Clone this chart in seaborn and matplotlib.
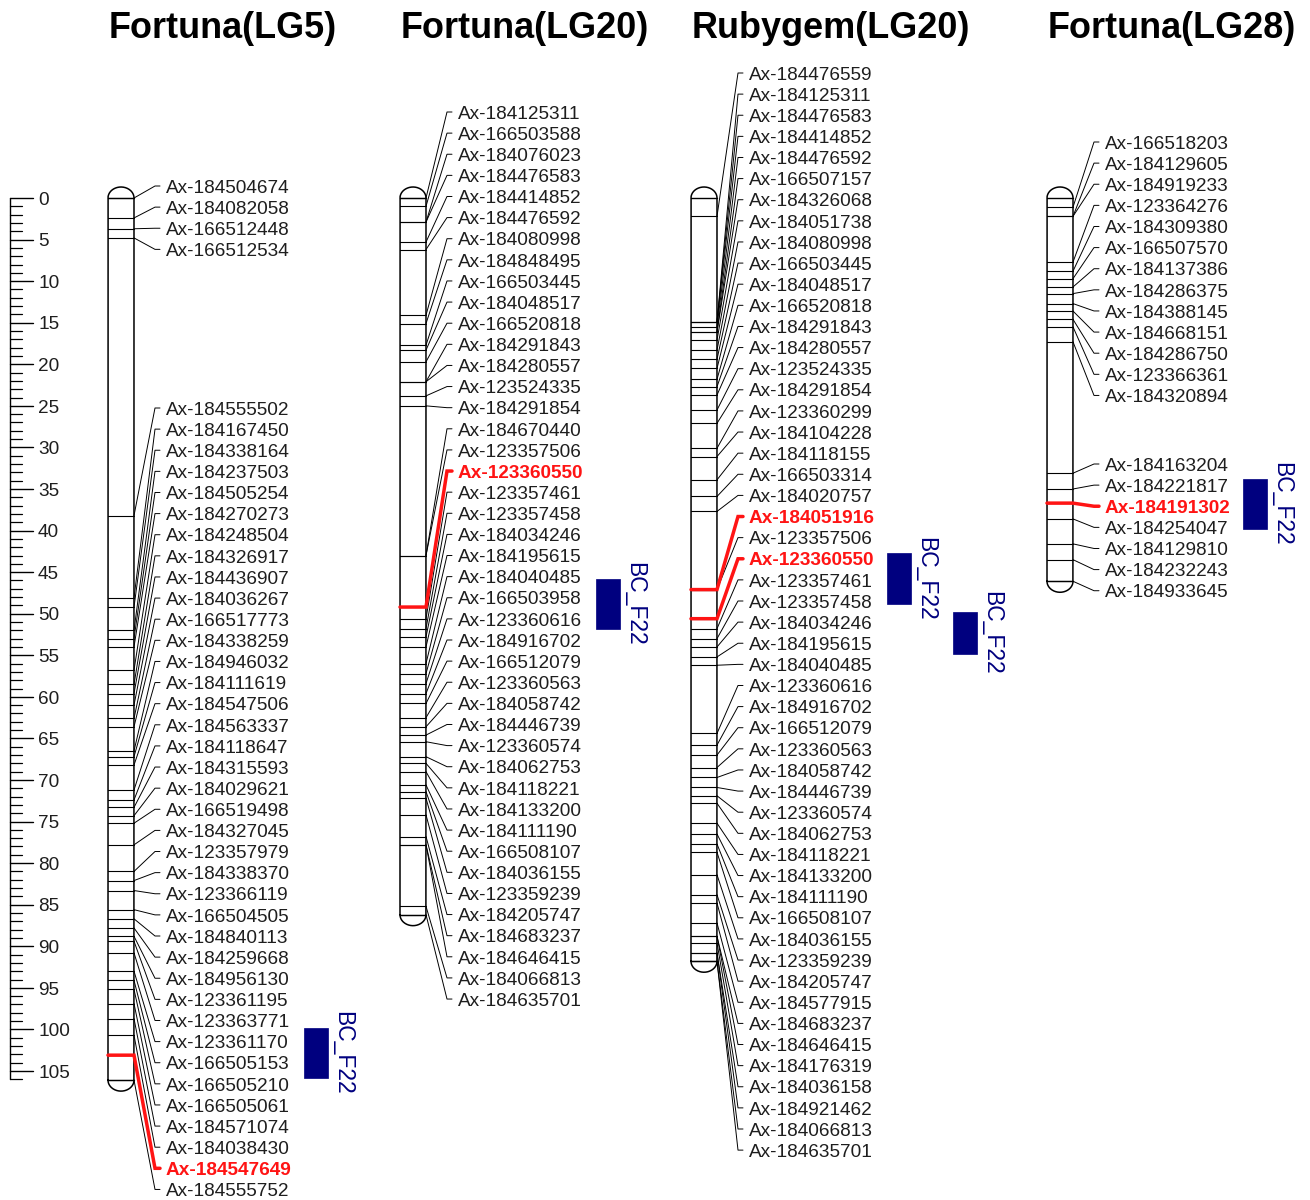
import numpy as np
import matplotlib
matplotlib.use("Agg")
import matplotlib.pyplot as plt
from matplotlib.patches import Rectangle
import seaborn as sns

# ---------------------------------------------------------------- data
# marker names and map positions (cM) for each linkage group
lg5_names = ["Ax-184504674", "Ax-184082058", "Ax-166512448", "Ax-166512534",
             "Ax-184555502", "Ax-184167450", "Ax-184338164", "Ax-184237503",
             "Ax-184505254", "Ax-184270273", "Ax-184248504", "Ax-184326917",
             "Ax-184436907", "Ax-184036267", "Ax-166517773", "Ax-184338259",
             "Ax-184946032", "Ax-184111619", "Ax-184547506", "Ax-184563337",
             "Ax-184118647", "Ax-184315593", "Ax-184029621", "Ax-166519498",
             "Ax-184327045", "Ax-123357979", "Ax-184338370", "Ax-123366119",
             "Ax-166504505", "Ax-184840113", "Ax-184259668", "Ax-184956130",
             "Ax-123361195", "Ax-123363771", "Ax-123361170", "Ax-166505153",
             "Ax-166505210", "Ax-166505061", "Ax-184571074", "Ax-184038430",
             "Ax-184547649", "Ax-184555752"]
lg5_pos = [0.0, 2.4, 3.7, 4.8,
           38.2, 48.1, 49.2, 52.0, 53.0, 54.0, 56.8, 58.5, 59.6, 61.0,
           62.6, 63.6, 66.5, 67.2, 68.2, 71.2, 72.4, 73.3, 74.3, 75.2,
           77.8, 81.0, 82.1, 83.3, 85.6, 86.7, 87.8, 88.8, 89.4, 90.8,
           93.0, 94.1, 95.2, 96.9, 98.7, 100.7, 103.1, 106.1]

fo20_names = ["Ax-184125311", "Ax-166503588", "Ax-184076023", "Ax-184476583",
              "Ax-184414852", "Ax-184476592", "Ax-184080998", "Ax-184848495",
              "Ax-166503445", "Ax-184048517", "Ax-166520818", "Ax-184291843",
              "Ax-184280557", "Ax-123524335", "Ax-184291854", "Ax-184670440",
              "Ax-123357506", "Ax-123360550", "Ax-123357461", "Ax-123357458",
              "Ax-184034246", "Ax-184195615", "Ax-184040485", "Ax-166503958",
              "Ax-123360616", "Ax-184916702", "Ax-166512079", "Ax-123360563",
              "Ax-184058742", "Ax-184446739", "Ax-123360574", "Ax-184062753",
              "Ax-184118221", "Ax-184133200", "Ax-184111190", "Ax-166508107",
              "Ax-184036155", "Ax-123359239", "Ax-184205747", "Ax-184683237",
              "Ax-184646415", "Ax-184066813", "Ax-184635701"]
fo20_pos = [0.0, 1.0, 2.9, 2.9, 5.3, 6.2,
            14.1, 15.1, 17.7, 18.3, 19.7, 22.1, 22.1, 23.8,
            25.0, 43.0, 43.0, 49.2,
            50.6, 51.8, 52.8, 54.0, 56.0, 57.2, 58.4, 59.6, 60.8, 62.5,
            63.6, 64.6, 65.4, 67.2, 68.0, 69.0, 70.6, 71.4, 72.2, 74.2,
            76.8, 77.8, 77.8, 85.2, 86.2]

rg20_names = ["Ax-184476559", "Ax-184125311", "Ax-184476583", "Ax-184414852",
              "Ax-184476592", "Ax-166507157", "Ax-184326068", "Ax-184051738",
              "Ax-184080998", "Ax-166503445", "Ax-184048517", "Ax-166520818",
              "Ax-184291843", "Ax-184280557", "Ax-123524335", "Ax-184291854",
              "Ax-123360299", "Ax-184104228", "Ax-184118155", "Ax-166503314",
              "Ax-184020757", "Ax-184051916", "Ax-123357506", "Ax-123360550",
              "Ax-123357461", "Ax-123357458", "Ax-184034246", "Ax-184195615",
              "Ax-184040485", "Ax-123360616", "Ax-184916702", "Ax-166512079",
              "Ax-123360563", "Ax-184058742", "Ax-184446739", "Ax-123360574",
              "Ax-184062753", "Ax-184118221", "Ax-184133200", "Ax-184111190",
              "Ax-166508107", "Ax-184036155", "Ax-123359239", "Ax-184205747",
              "Ax-184577915", "Ax-184683237", "Ax-184646415", "Ax-184176319",
              "Ax-184036158", "Ax-184921462", "Ax-184066813", "Ax-184635701"]
rg20_pos = [2.2, 14.9, 14.9, 14.9, 15.5, 16.1, 16.1, 17.1, 18.3, 19.4,
            20.5, 21.8, 22.7, 23.7, 25.5, 27.1, 30.1, 31.1, 33.9, 35.9,
            37.7, 47.1, 47.1, 50.6, 51.8, 53.0, 54.0, 55.2, 56.2,
            64.4, 65.8, 67.0, 68.5, 69.7, 70.9, 71.9, 72.8, 75.2, 76.5,
            77.7, 78.7, 81.4, 83.8, 84.8, 87.2, 88.8, 88.8, 89.6, 90.8,
            90.8, 91.8, 91.8]

fo28_names = ["Ax-166518203", "Ax-184129605", "Ax-184919233", "Ax-123364276",
              "Ax-184309380", "Ax-166507570", "Ax-184137386", "Ax-184286375",
              "Ax-184388145", "Ax-184668151", "Ax-184286750", "Ax-123366361",
              "Ax-184320894", "Ax-184163204", "Ax-184221817", "Ax-184191302",
              "Ax-184254047", "Ax-184129810", "Ax-184232243", "Ax-184933645"]
fo28_pos = [1.1, 2.2, 2.2, 7.7, 8.8, 9.7, 10.7, 11.5, 12.7, 13.6, 14.6,
            15.5, 17.3, 33.1, 35.0, 36.7, 38.6, 41.6, 43.5, 46.1]

titles = ["Fortuna(LG5)", "Fortuna(LG20)", "Rubygem(LG20)", "Fortuna(LG28)"]
highlighted = [["Ax-184547649"], ["Ax-123360550"],
               ["Ax-184051916", "Ax-123360550"], ["Ax-184191302"]]

# QTL intervals: (linkage group index, start cM, end cM, column, name)
qtl_group = [0, 1, 2, 2, 3]
qtl_start = [99.8, 45.8, 42.7, 49.8, 33.8]
qtl_end = [105.8, 51.9, 48.8, 54.8, 39.8]
qtl_column = [0, 0, 0, 1, 0]
qtl_name = ["BC_F22"] * 5

scale_max = 106

# ---------------------------------------------------------------- layout
sns.set_theme(style="white")
plt.rcParams["font.family"] = ["Liberation Sans", "DejaVu Sans"]

W, H, DPI = 1310, 1200, 100
Y0 = 198.0       # pixel row of 0 cM
PPC = 8.314      # pixels per cM
LABEL_STEP = 21.12 / PPC
TEXT_DY = 2.2 / PPC   # small downward nudge so glyphs sit on the leader line


def px2cm(py):
    return (py - Y0) / PPC


bar_left = [108, 400, 691, 1047]
bar_w = 26
# label runs per group: (number of labels, pixel row of first label)
label_runs = [[(4, 186), (38, 408)], [(43, 112)], [(52, 73)],
              [(13, 142), (7, 464)]]

RED = "#ff1414"
NAVY = "#00007f"
TXT = "#1e1e1e"
LAB_FS = 13.7

fig = plt.figure(figsize=(W / DPI, H / DPI), dpi=DPI)
ax = fig.add_axes([0, 0, 1, 1])
ax.set_xlim(0, W)
ax.set_ylim(px2cm(H), px2cm(0))
ax.axis("off")

# ---------------------------------------------------------------- scale bar
ax.plot([10, 10], [0, scale_max], color="black", lw=1.0)
for v in range(scale_max + 1):
    major = v % 5 == 0
    ax.plot([10, 33 if major else 22], [v, v], color="black",
            lw=1.0 if major else 0.9)
    if major:
        ax.text(38, v + TEXT_DY, str(v), ha="left", va="center",
                fontsize=LAB_FS, color=TXT)

# ---------------------------------------------------------------- groups
groups = [(lg5_names, lg5_pos), (fo20_names, fo20_pos),
          (rg20_names, rg20_pos), (fo28_names, fo28_pos)]

cap = 11.0 / PPC
for gi, (names, pos) in enumerate(groups):
    x0 = bar_left[gi]
    x1 = x0 + bar_w
    length = max(pos)

    # chromosome outline with rounded ends
    t = np.linspace(0, np.pi, 80)
    cx = x0 + bar_w / 2
    top_x = cx - bar_w / 2 * np.cos(t)
    top_y = -cap * np.sin(t)
    bot_x = cx + bar_w / 2 * np.cos(t)
    bot_y = length + cap * np.sin(t)
    ox = np.concatenate([[x0, x0], top_x, [x1, x1], bot_x])
    oy = np.concatenate([[length, 0], top_y, [0, length], bot_y])
    ax.plot(ox, oy, color="black", lw=1.1, solid_joinstyle="round")
    ax.plot([x0, x1], [0, 0], color="black", lw=1.0)
    ax.plot([x0, x1], [length, length], color="black", lw=1.0)

    # label rows
    label_y = []
    for n, first in label_runs[gi]:
        label_y += [px2cm(first) + k * LABEL_STEP for k in range(n)]

    hl = highlighted[gi]
    for p in pos:
        ax.plot([x0, x1], [p, p], color="black", lw=0.8)
    for name, p, ly in zip(names, pos, label_y):
        if name in hl:
            continue
        ax.plot([x1, x1 + 21, x1 + 26], [p, ly, ly], color="black", lw=0.7)
        ax.text(x1 + 32, ly + TEXT_DY, name, ha="left", va="center",
                fontsize=LAB_FS, color=TXT)
    for name, p, ly in zip(names, pos, label_y):
        if name not in hl:
            continue
        ax.plot([x0, x1, x1 + 21, x1 + 26], [p, p, ly, ly], color=RED,
                lw=2.5, solid_joinstyle="miter")
        ax.text(x1 + 32, ly + TEXT_DY, name, ha="left", va="center",
                fontsize=LAB_FS, color=RED, fontweight="bold")

    ax.text(x0 + 1, px2cm(28), titles[gi], ha="left", va="center",
            fontsize=25.9, fontweight="bold", color="black")

# ---------------------------------------------------------------- QTL boxes
for g, s, e, col, nm in zip(qtl_group, qtl_start, qtl_end, qtl_column,
                            qtl_name):
    bx = bar_left[g] + 196 + 66 * col
    ax.add_patch(Rectangle((bx, s), 24, e - s, facecolor=NAVY,
                           edgecolor=NAVY, lw=0.5))
    ax.text(bx + 24 + 15, (s + e) / 2, nm, rotation=270, ha="center",
            va="center", fontsize=16.5, color=NAVY)

fig.savefig("out.png", dpi=DPI, facecolor="white")
